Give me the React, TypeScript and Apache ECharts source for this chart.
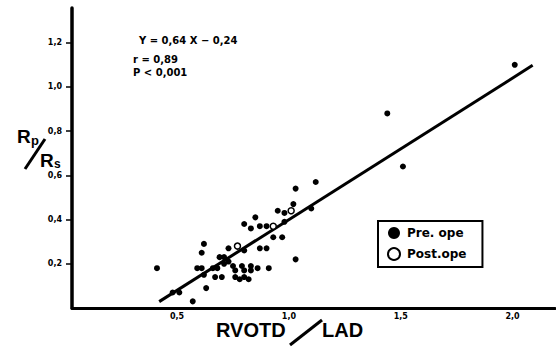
import React, { useEffect, useRef } from "react";
import * as echarts from "echarts";

// RVOTD/LAD (x) against Rp/Rs (y)
const preOpX = [
  2.01, 1.44, 1.51, 1.12, 1.03, 1.02, 1.1, 0.98, 0.95, 0.98, 0.85, 0.8, 0.83, 0.87, 0.9,
  0.93, 0.97, 1.03, 0.87, 0.9, 0.73, 0.8, 0.62, 0.61, 0.41, 0.59, 0.61, 0.66, 0.68, 0.62,
  0.67, 0.63, 0.48, 0.51, 0.57, 0.69, 0.71, 0.71, 0.75, 0.76, 0.79, 0.83, 0.83, 0.86, 0.91,
  0.8, 0.7, 0.76, 0.78, 0.8, 0.82, 0.73,
];
const preOpY = [
  1.1, 0.88, 0.64, 0.57, 0.54, 0.47, 0.45, 0.43, 0.44, 0.39, 0.41, 0.38, 0.36, 0.37, 0.37,
  0.32, 0.32, 0.22, 0.27, 0.27, 0.27, 0.26, 0.29, 0.25, 0.18, 0.18, 0.18, 0.18, 0.18, 0.15,
  0.14, 0.09, 0.07, 0.07, 0.03, 0.23, 0.23, 0.2, 0.19, 0.17, 0.19, 0.19, 0.17, 0.18, 0.18,
  0.17, 0.14, 0.14, 0.13, 0.14, 0.13, 0.21,
];
const postOpX = [1.01, 0.93, 0.77];
const postOpY = [0.44, 0.37, 0.28];

// regression Y = 0,64 X − 0,24 drawn over the observed x span
const slope = 0.64;
const intercept = -0.24;
const fitFrom = 0.42;
const fitTo = 2.09;

const xTicks = [0.5, 1.0, 1.5, 2.0];
const yTicks = [0.2, 0.4, 0.6, 0.8, 1.0, 1.2];

const equationLines = ["Y = 0,64 X − 0,24", "r = 0,89", "P < 0,001"];
const seriesNames = ["Pre. ope", "Post.ope"];

const FONT = "DejaVu Sans";
const comma = (v: number) => v.toFixed(1).replace(".", ",");

export default function App() {
  const ref = useRef<HTMLDivElement>(null);

  useEffect(() => {
    document.body.style.margin = "0";
    const chart = echarts.init(ref.current!, undefined, { renderer: "svg" });
    const pair = (xs: number[], ys: number[]) => xs.map((x, i) => [x, ys[i]]);
    const fitLine = [fitFrom, fitTo].map((x) => [x, slope * x + intercept]);

    chart.setOption({
      animation: false,
      backgroundColor: "#fff",
      grid: { left: 72, right: 1, top: 8, bottom: 44, containLabel: false, outerBoundsMode: "none" },
      xAxis: {
        type: "value",
        min: 0.03,
        max: 2.19,
        axisLine: { show: true, lineStyle: { color: "#000", width: 3 } },
        axisTick: { show: false, customValues: xTicks },
        splitLine: { show: false },
        axisLabel: {
          customValues: xTicks,
          formatter: (v: number) => comma(v),
          color: "#000",
          fontFamily: FONT,
          fontWeight: "bold",
          fontSize: 8,
          margin: 4,
        },
      },
      yAxis: {
        type: "value",
        min: 0,
        max: 1.357,
        axisLine: { show: true, lineStyle: { color: "#000", width: 3.5 } },
        axisTick: { show: true, customValues: yTicks, length: 6, lineStyle: { color: "#000", width: 1.5 } },
        splitLine: { show: false },
        axisLabel: {
          customValues: yTicks,
          formatter: (v: number) => comma(v),
          color: "#000",
          fontFamily: FONT,
          fontWeight: "bold",
          fontSize: 8,
          margin: 10,
        },
      },
      legend: {
        orient: "vertical",
        left: 378,
        top: 221,
        data: seriesNames,
        borderColor: "#000",
        borderWidth: 2,
        borderRadius: 0,
        padding: [6, 16, 6, 9],
        itemWidth: 12,
        itemHeight: 12,
        itemGap: 8,
        textStyle: { color: "#000", fontFamily: FONT, fontWeight: "bold", fontSize: 12, padding: [0, 0, 0, 2] },
      },
      series: [
        {
          name: "fit",
          type: "line",
          data: fitLine,
          symbol: "none",
          lineStyle: { color: "#000", width: 3 },
          z: 1,
        },
        {
          name: seriesNames[0],
          type: "scatter",
          data: pair(preOpX, preOpY),
          symbol: "circle",
          symbolSize: 6,
          itemStyle: { color: "#000", opacity: 1 },
          z: 3,
        },
        {
          name: seriesNames[1],
          type: "scatter",
          data: pair(postOpX, postOpY),
          symbol: "circle",
          symbolSize: 6,
          itemStyle: { color: "#fff", borderColor: "#000", borderWidth: 1.5, opacity: 1 },
          z: 4,
        },
      ],
      graphic: [
        ...equationLines.map((t, i) => ({
          type: "text",
          left: i === 0 ? 139 : 133,
          top: [35, 54, 67][i],
          style: { text: t, fill: "#000", font: `bold 10px "${FONT}"` },
        })),
        // x-axis title: RVOTD / LAD
        { type: "text", x: 216, y: 320, style: { text: "RVOTD", fill: "#000", font: 'bold 20px "Liberation Sans"' } },
        { type: "line", shape: { x1: 290, y1: 345, x2: 322, y2: 320 }, style: { stroke: "#000", lineWidth: 3 } },
        { type: "text", x: 322, y: 320, style: { text: "LAD", fill: "#000", font: 'bold 20px "Liberation Sans"' } },
        // y-axis title: Rp / Rs
        { type: "text", x: 17, y: 127, style: { text: "R", fill: "#000", font: 'bold 19px "Liberation Sans"' } },
        { type: "text", x: 31, y: 134, style: { text: "p", fill: "#000", font: 'bold 13px "Liberation Sans"' } },
        { type: "line", shape: { x1: 25, y1: 169, x2: 45, y2: 139 }, style: { stroke: "#000", lineWidth: 3 } },
        { type: "text", x: 40, y: 151, style: { text: "R", fill: "#000", font: 'bold 19px "Liberation Sans"' } },
        { type: "text", x: 54, y: 158, style: { text: "s", fill: "#000", font: 'bold 12px "Liberation Sans"' } },
      ],
    });

    return () => chart.dispose();
  }, []);

  return <div ref={ref} style={{ width: 556, height: 352, position: "absolute", left: 0, top: 0 }} />;
}
